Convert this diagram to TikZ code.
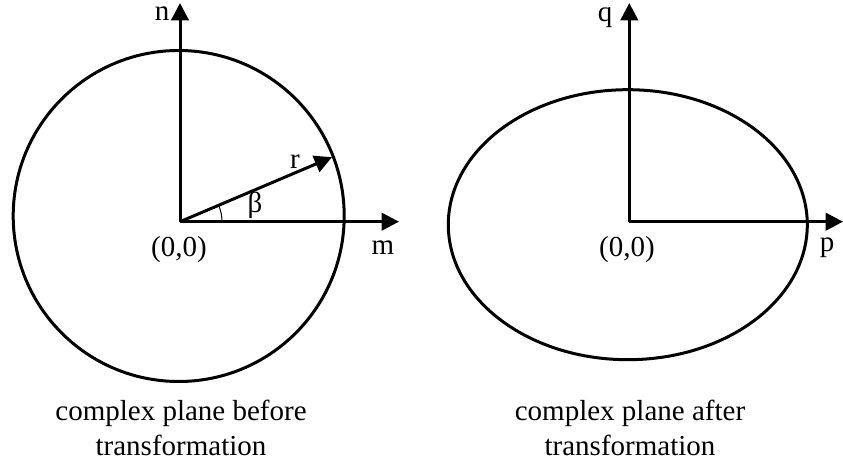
\documentclass[tikz,border=0pt]{standalone}
\usepackage{fontspec}
\setmainfont{Liberation Serif}
\usetikzlibrary{arrows.meta}

\begin{document}
\begin{tikzpicture}[x=0.75pt,y=0.75pt,
  axis/.style={line width=2.25pt,-{Triangle[length=13pt,width=13pt]}},
  curve/.style={line width=2.25pt},
  lbl/.style={font=\fontsize{21.75}{26.25}\selectfont,inner sep=0pt}]
\useasboundingbox (0,0) rectangle (843,461);
% before the transformation
\draw[curve] (178.7,245) circle (165.5);
\coordinate (o1) at (180,239.3);
\coordinate (n1) at (180,458);
\coordinate (m1) at (399,239.3);
\coordinate (r1) at (331.9,303.8);
\draw[axis] (o1) -- (n1);
\draw[axis] (o1) -- (m1);
\draw[axis] (o1) -- (r1);
\draw[line width=0.75pt] ([shift={(0:42)}]o1) arc[start angle=0,end angle=23,radius=42];
\node[lbl] (nlab) at (162,447) {n};
\node[lbl] (mlab) at (383,213) {m};
\node[lbl] (rlab) at (295,299) {r};
\node[lbl] (blab) at (255,256) {β};
\node[lbl] (o1lab) at (179,211) {(0,0)};
\node[lbl,align=center,anchor=base] (cap1) at (181,6) {complex plane before\\transformation};
% after the transformation
\draw[curve] (627.8,236.3) ellipse [x radius=179.5,y radius=135];
\coordinate (o2) at (629.3,239.3);
\coordinate (q2) at (629.3,458);
\coordinate (p2) at (843,239.3);
\draw[axis] (o2) -- (q2);
\draw[axis] (o2) -- (p2);
\node[lbl] (qlab) at (605,443) {q};
\node[lbl] (plab) at (827,213) {p};
\node[lbl] (o2lab) at (627,211) {(0,0)};
\node[lbl,align=center,anchor=base] (cap2) at (630,6) {complex plane after\\transformation};
\end{tikzpicture}
\end{document}
